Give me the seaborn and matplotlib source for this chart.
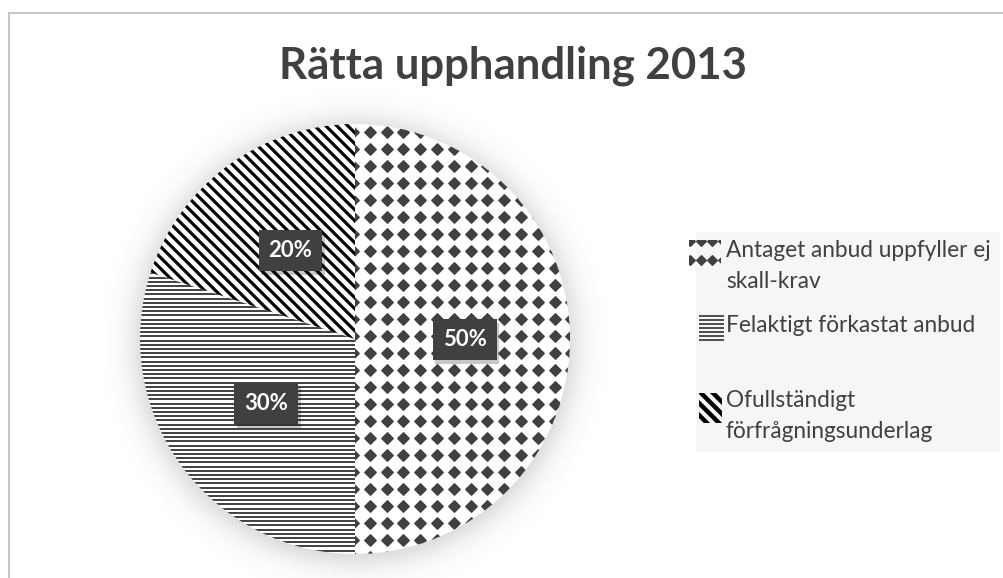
import numpy as np
import matplotlib
matplotlib.use("Agg")
import matplotlib.pyplot as plt
import seaborn as sns
from matplotlib.patches import Rectangle
from matplotlib.collections import LineCollection
import matplotlib.patheffects as pe

# Chart data
title = "Rätta upphandling 2013"
categories = [
    "Antaget anbud uppfyller ej\nskall-krav",
    "Felaktigt förkastat anbud",
    "Ofullständigt\nförfrågningsunderlag",
]
shares = [50, 30, 20]

sns.set_theme(style="white")
plt.rcParams["font.family"] = ["Lato", "DejaVu Sans"]

DARK = "#404040"
W, H = 1004, 578
fig = plt.figure(figsize=(W / 100, H / 100), dpi=100)
fig.patch.set_facecolor("white")
ax = fig.add_axes([0, 0, 1, 1])


def Y(y):
    """Convert a top-down pixel row to the axis' bottom-up coordinate."""
    return H - np.asarray(y, dtype=float)


cx, cy, R = 355, float(Y(339)), 215

# soft shadow around the pie
yy, xx = np.mgrid[0:H, 0:W]
dist = np.hypot(xx + 0.5 - cx, (H - yy - 0.5) - (cy - 3))
halo = np.zeros((H, W, 4))
halo[..., 3] = 0.20 / (1 + np.exp((dist - (R + 4)) / 9.0))
ax.imshow(halo, extent=(0, W, 0, H), origin="upper", zorder=0, interpolation="bilinear")

wedges, _, pct_texts = ax.pie(
    shares,
    startangle=90,
    counterclock=False,
    center=(cx, cy),
    radius=R,
    colors=["white"] * len(shares),
    wedgeprops=dict(edgecolor="none", zorder=1),
    autopct="%1.0f%%",
    pctdistance=0.51,
    textprops=dict(color="white", fontsize=16, fontweight="bold"),
)


def diamonds(target, x0, x1, y0, y1, clip, step_x=16.8, step_y=17.0, s=32, lw=1.2):
    gx = np.arange(x0, x1, step_x)
    gy = np.arange(y0, y1, step_y)
    GX, GY = np.meshgrid(gx, gy)
    sc = target.scatter(GX.ravel(), Y(GY.ravel()), marker="D", s=s, c=DARK,
                        linewidths=lw, edgecolors=DARK, zorder=2)
    sc.set_joinstyle("round")
    sc.set_clip_path(clip)


def hlines(target, x0, x1, y0, y1, clip, step=4.2, lw=1.4):
    ys = np.arange(y0, y1, step)
    lc = target.hlines(Y(ys), x0, x1, colors=DARK, lw=lw, zorder=2)
    lc.set_clip_path(clip)


def stripes(target, x0, x1, b0, b1, clip, step=11.0, lw=2.3):
    segs = [[(x0, H - x0 - b), (x1, H - x1 - b)] for b in np.arange(b0, b1, step)]
    lc = LineCollection(segs, colors="black", linewidths=lw, zorder=2)
    target.add_collection(lc)
    lc.set_clip_path(clip)


# slice fills
diamonds(ax, 353, 590, 131.7 - 17.0, 570, wedges[0])
hlines(ax, 120, 370, 118, 570, wedges[1])
stripes(ax, 120, 380, -420, 260, wedges[2])

for t in pct_texts:
    t.set_zorder(4)
    t.set_bbox(dict(boxstyle="square,pad=0.45", fc=DARK, ec="none"))
    t.get_bbox_patch().set_path_effects(
        [pe.SimplePatchShadow(offset=(2, -3), shadow_rgbFace="black", alpha=0.22), pe.Normal()]
    )

# title
ax.text(513, Y(66), title, ha="center", va="center", fontsize=31.5,
        fontweight="bold", color=DARK, zorder=5)

# legend panel
ax.add_patch(Rectangle((696, Y(452)), 304, 452 - 232, fc="#f6f6f6", ec="none", zorder=1))

h1 = Rectangle((689, Y(270)), 31, 30, fc="none", ec="none")
ax.add_patch(h1)
diamonds(ax, 690, 725, 241, 275, h1, step_x=11.0, step_y=19.0, s=24, lw=1.0)

h2 = Rectangle((699, Y(343)), 25, 28, fc="none", ec="none")
ax.add_patch(h2)
hlines(ax, 699, 724, 316, 345, h2, step=4.0, lw=1.3)

h3 = Rectangle((699, Y(423)), 23, 30, fc="none", ec="none")
ax.add_patch(h3)
stripes(ax, 690, 730, -320, -260, h3, step=12.0, lw=3.2)

legend_base = [257, 332, 407]
for label, base in zip(categories, legend_base):
    for k, line in enumerate(label.split("\n")):
        ax.text(726, Y(base + 31 * k), line, ha="left", va="baseline",
                fontsize=16.3, color=DARK, zorder=5)

# chart frame (left and top edges visible)
ax.add_patch(Rectangle((9, -20), 1100, Y(12.5) + 20, fc="none", ec="#c6c6c6", lw=1.5, zorder=6))

ax.set_xlim(0, W)
ax.set_ylim(0, H)
ax.set_aspect("equal")
ax.axis("off")

fig.savefig("out.png", dpi=100, facecolor="white")
